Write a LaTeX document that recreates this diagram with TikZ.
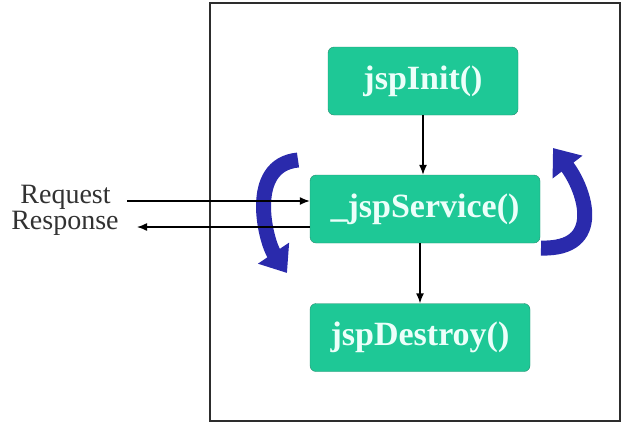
\documentclass[tikz,border=0pt]{standalone}
\usepackage{fontspec}
\setmainfont{Liberation Serif}
\usetikzlibrary{arrows.meta,positioning}

\definecolor{boxgreen}{RGB}{30,200,150}
\definecolor{boxedge}{RGB}{40,140,112}
\definecolor{boxtext}{RGB}{236,255,250}
\definecolor{arrowblue}{RGB}{42,42,172}
\definecolor{msgtext}{RGB}{50,50,50}
\definecolor{framegray}{RGB}{45,45,45}

\begin{document}
\begin{tikzpicture}[x=1pt, y=1pt, thick]

		\tikzstyle{phase}=[rectangle, rounded corners=6pt, thin, fill=boxgreen, draw=boxedge, text=boxtext, font=\fontsize{34}{36}\selectfont\bfseries, minimum height=68pt, inner sep=0pt]
		\tikzstyle{msg}=[text=msgtext, font=\fontsize{28}{30}\selectfont, inner sep=0pt]
		\tikzstyle{call}=[-{Latex[length=10pt,width=8pt]}, black, line width=1.4pt]
		\tikzstyle{cycle}=[line width=15pt, arrowblue, -{Triangle[length=24pt,width=36pt]}]

		\useasboundingbox (0,0) rectangle (621,-424);
		\draw[line width=2pt, framegray] (210,-3) rectangle (619.5,-421);

		% Life cycle methods
		\node[phase, minimum width=190pt] (init) at (423,-81) {jspInit()};
		\node[phase, minimum width=230pt] (service) at (425,-209) {\_jspService()};
		\node[phase, minimum width=220pt] (destroy) at (420,-337.5) {jspDestroy()};

		\node[msg, anchor=base east] (req) at (111,-203) {Request};
		\node[msg, anchor=base east] (res) at (119,-229) {Response};

		% Repeating calls
		\draw[cycle] (298,-160) .. controls (246,-165) and (266,-242) .. (287,-273);
		\draw[cycle] (541,-248) .. controls (605,-250) and (585,-190) .. (553,-148);

		\coordinate (reqtail) at (127,-201);
		\coordinate (restip) at (137,-227);

		\draw[call] (reqtail) -- (reqtail -| service.west);
		\draw[call] (restip -| service.west) -- (restip);
		\draw[call] (init.south) -- (init.south |- service.north);
		\draw[call] (destroy.north |- service.south) -- (destroy.north);
\end{tikzpicture}
\end{document}
